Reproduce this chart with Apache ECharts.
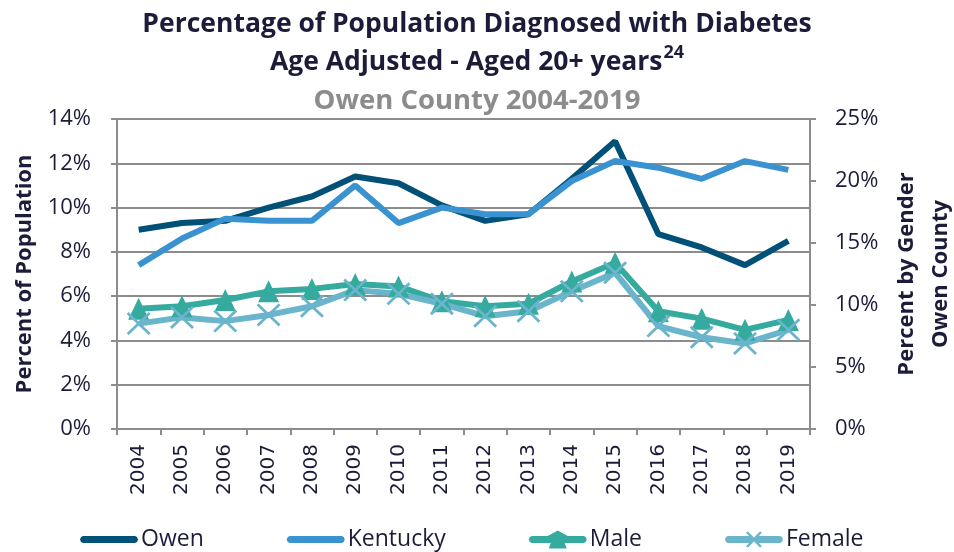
<!DOCTYPE html>
<html>
<head>
<meta charset="utf-8">
<script src="https://cdn.jsdelivr.net/npm/echarts@6/dist/echarts.min.js"></script>
<style>
html,body{margin:0;padding:0;background:#fff;}
#chart{width:954px;height:552px;}
</style>
</head>
<body>
<div id="chart"></div>
<script>
var years = ['2004','2005','2006','2007','2008','2009','2010','2011','2012','2013','2014','2015','2016','2017','2018','2019'];
var owen     = [9.0, 9.3, 9.4, 10.0, 10.5, 11.4, 11.1, 10.1, 9.4, 9.7, 11.3, 13.0, 8.8, 8.2, 7.4, 8.5];
var kentucky = [7.4, 8.6, 9.5, 9.4, 9.4, 11.0, 9.3, 10.0, 9.7, 9.7, 11.2, 12.1, 11.8, 11.3, 12.1, 11.7];
var male     = [9.7, 9.9, 10.4, 11.1, 11.3, 11.7, 11.5, 10.3, 9.9, 10.1, 11.9, 13.4, 9.5, 8.9, 8.0, 8.8];
var female   = [8.5, 9.0, 8.7, 9.2, 9.9, 11.2, 10.9, 10.1, 9.1, 9.5, 11.1, 12.6, 8.3, 7.4, 6.9, 8.0];
var leftTicks = {min: 0, max: 14, interval: 2};
var rightTicks = {min: 0, max: 25, interval: 5};

var C_OWEN = '#005078', C_KY = '#3a93d0', C_MALE = '#35ab9f', C_FEMALE = '#6ab4cc';
var GRID = '#8c8c8c', TXT = '#1c1c3a';
var xPath = 'path://M0,2 L2,0 L12,10 L22,0 L24,2 L14,12 L24,22 L22,24 L12,14 L2,24 L0,22 L10,12 Z';
// legend icons (58 x 20 box)
var barIcon = 'path://M3,0 L55,0 L57,1 L58,3.5 L57,6 L55,7 L3,7 L1,6 L0,3.5 L1,1 Z';
var maleIcon = 'path://M3,6.5 L19,6.5 L29,1 L39,6.5 L55,6.5 L57,7.5 L58,10 L57,12.5 L55,13.5 L36,13.5 L38,19 L20,19 L22,13.5 L3,13.5 L1,12.5 L0,10 L1,7.5 Z';
var femaleIcon = 'path://M3,6.5 L24,6.5 L21,3 L23,2 L29,8 L35,2 L37,3 L34,6.5 L55,6.5 L57,7.5 L58,10 L57,12.5 L55,13.5 L34,13.5 L37,17 L35,18 L29,12 L23,18 L21,17 L24,13.5 L3,13.5 L1,12.5 L0,10 L1,7.5 Z';

var chart = echarts.init(document.getElementById('chart'));
chart.setOption({
  animation: false,
  textStyle: {fontFamily: 'Open Sans'},
  title: [{
    text: 'Percentage of Population Diagnosed with Diabetes\nAge Adjusted - Aged 20+ years{sup|24}',
    left: 'center', top: 0,
    textStyle: {
      fontFamily: 'Open Sans', fontWeight: 'bold', fontSize: 26.5, color: TXT, lineHeight: 38,
      rich: {sup: {fontFamily: 'Open Sans', fontWeight: 'bold', fontSize: 18, color: TXT, verticalAlign: 'top', lineHeight: 18, padding: [1, 0, 0, 1]}}
    }
  }, {
    text: 'Owen County 2004-2019',
    left: 'center', top: 82,
    textStyle: {fontFamily: 'Open Sans', fontWeight: 'bold', fontSize: 27.5, color: '#8c8c8c'}
  }],
  legend: {
    top: 523, left: 75,
    itemWidth: 58, itemHeight: 20, itemGap: 83, symbolKeepAspect: true,
    textStyle: {fontFamily: 'Open Sans', fontSize: 23, color: TXT, padding: [0,0,0,-2]},
    data: [
      {name: 'Owen', icon: barIcon},
      {name: 'Kentucky', icon: barIcon},
      {name: 'Male', icon: maleIcon},
      {name: 'Female', icon: femaleIcon}
    ]
  },
  grid: {left: 117, right: 144, top: 119, bottom: 123, outerBoundsMode: 'none', containLabel: false},
  xAxis: {
    type: 'category', data: years, boundaryGap: true,
    axisLine: {lineStyle: {color: GRID, width: 2}},
    axisTick: {show: true, length: 6, lineStyle: {color: GRID, width: 2}},
    axisLabel: {rotate: 90, fontFamily: 'DejaVu Sans', fontSize: 20, color: TXT, margin: 15}
  },
  yAxis: [{
    type: 'value', min: leftTicks.min, max: leftTicks.max, interval: leftTicks.interval,
    name: 'Percent of Population', nameLocation: 'middle', nameGap: 81, nameRotate: 90,
    nameTextStyle: {fontFamily: 'Open Sans', fontWeight: 'bold', fontSize: 22, color: TXT},
    axisLine: {show: true, lineStyle: {color: GRID, width: 2}},
    axisTick: {show: true, length: 6, lineStyle: {color: GRID, width: 2}},
    axisLabel: {formatter: '{value}%', fontSize: 22, color: TXT, margin: 26},
    splitLine: {show: true, lineStyle: {color: GRID, width: 2}}
  }, {
    type: 'value', position: 'right', min: rightTicks.min, max: rightTicks.max, interval: rightTicks.interval,
    name: 'Percent by Gender\nOwen County', nameLocation: 'middle', nameGap: 66, nameRotate: 90,
    nameTextStyle: {fontFamily: 'Open Sans', fontWeight: 'bold', fontSize: 22, color: TXT, lineHeight: 34},
    axisLine: {show: true, lineStyle: {color: GRID, width: 2}},
    axisTick: {show: true, length: 6, lineStyle: {color: GRID, width: 2}},
    axisLabel: {formatter: '{value}%', fontSize: 22, color: TXT, margin: 25},
    splitLine: {show: false}
  }],
  series: [{
    name: 'Owen', type: 'line', data: owen, yAxisIndex: 0, symbol: 'none',
    lineStyle: {color: C_OWEN, width: 6}, itemStyle: {color: C_OWEN}
  }, {
    name: 'Kentucky', type: 'line', data: kentucky, yAxisIndex: 0, symbol: 'none',
    lineStyle: {color: C_KY, width: 6}, itemStyle: {color: C_KY}
  }, {
    name: 'Male', type: 'line', data: male, yAxisIndex: 1, symbol: 'triangle', symbolSize: [21, 22],
    lineStyle: {color: C_MALE, width: 6}, itemStyle: {color: C_MALE}
  }, {
    name: 'Female', type: 'line', data: female, yAxisIndex: 1, symbol: xPath, symbolSize: [24, 23],
    lineStyle: {color: C_FEMALE, width: 6}, itemStyle: {color: C_FEMALE}
  }]
});
</script>
</body>
</html>
